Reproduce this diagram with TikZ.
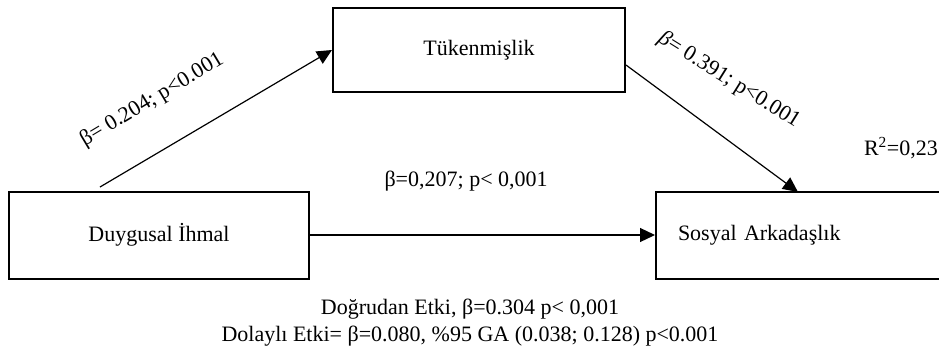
\documentclass[tikz,border=0pt]{standalone}
\usepackage{fontspec}
\setmainfont{Liberation Serif}
\usetikzlibrary{arrows.meta, positioning}

\begin{document}
\begin{tikzpicture}[
        x=1pt, y=-1pt,
        font=\fontsize{22}{27}\selectfont,
        box/.style={rectangle, draw=black, line width=2pt, fill=white, align=center, minimum height=87pt},
        arrow/.style={-{Triangle[length=15pt, width=14pt]}, line width=1.2pt}
    ]
        \useasboundingbox (0,0) rectangle (939,349);

        % Variables
        \node[box, minimum width=292pt, minimum height=84pt] (tuk) at (479,50) {Tükenmişlik};
        \node[box, minimum width=300pt] (duy) at (159,235) {Duygusal İhmal};
        \node[box, text width=300pt, align=left, inner xsep=22pt] (sos) at (828,235.5) {Sosyal Arkadaşlık};

        % Free ends
        \coordinate (start1) at (100,187);
        \coordinate (end2) at (798,192);

        % Connections
        \draw[arrow] (start1) -- (tuk.west);
        \draw[arrow] ([yshift=-15pt]tuk.east) -- (end2);
        \draw[arrow] (duy.east) -- (duy.east -| sos.west);

        % Coefficients
        \node[rotate=31] (b1) at (152,100) {β= 0.204; p<0.001};
        \node[rotate=-32] (b2) at (729,80) {\textit{β}= 0.391; p<0.001};
        \node[anchor=west] (b3) at (381,181) {β=0,207; p< 0,001};
        \node[anchor=east, inner sep=0pt] (rsq) at (938,148) {R\textsuperscript{2}=0,23};
        \node[align=center] (eff) at (470,323) {Doğrudan Etki, β=0.304 p< 0,001\\Dolaylı Etki= β=0.080, \%95 GA (0.038; 0.128) p<0.001};
    \end{tikzpicture}
\end{document}
